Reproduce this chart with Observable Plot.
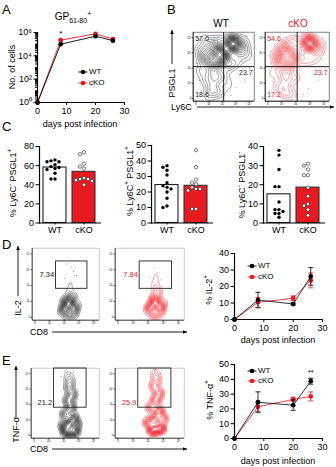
<!DOCTYPE html>
<html><head><meta charset="utf-8">
<script src="https://cdn.jsdelivr.net/npm/d3@7"></script>
<script src="https://cdn.jsdelivr.net/npm/@observablehq/plot@0.6"></script>
<style>
body{margin:0;background:#fff;}
#fig{position:relative;width:336px;height:467px;overflow:hidden;font-family:"Liberation Sans",Arial,sans-serif;color:#000;background:#fff;}
.t{position:absolute;white-space:nowrap;line-height:1;}
.t sup{font-size:0.7em;line-height:0;}
.lo{font-size:7px;position:relative;top:2.5px;}
.hi{font-size:7px;position:relative;top:-4px;}
</style></head><body><div id="fig"></div><script>
// ---------- data ----------
// A: GP61-80+ cell numbers over time
const days = [0, 8, 20, 26];
const gpCellsWT = [1, 1.0e5, 4.8e5, 2.0e5];
const gpCellsKO = [1, 2.2e5, 7.7e5, 2.7e5];
const logTicks = [1, 1e2, 1e4, 1e6];
const logTickLabels = ["10⁰", "10²", "10⁴", "10⁶"];

// C: per-mouse percentages and group means
const groups = ["WT", "cKO"];
const c1WT = [66, 65, 64, 64, 61, 59, 58, 57, 56, 52, 46, 46];
const c1KO = [74, 72, 62, 59, 57, 47, 46, 46, 45, 44, 40];
const c1Means = [58, 53.5];
const c2WT = [37, 36, 34, 31, 26, 24, 23, 22, 20, 16, 11, 10];
const c2KO = [47, 36, 28, 26, 25, 23, 22, 22, 21, 9, 9];
const c2Means = [24.5, 24];
const c3WT = [38, 35.5, 28, 19, 19, 11, 7, 7, 6, 5, 5, 3];
const c3KO = [31, 30, 28, 25, 25, 18.5, 14, 10, 9, 7, 4];
const c3Means = [15, 18.5];

// D/E: cytokine+ percentages (mean, SEM)
const il2WT = [0, 11.8, 9.4, 26.1], il2WTsem = [0, 4.7, 0.6, 5.3];
const il2KO = [0, 10.4, 12.9, 23.7], il2KOsem = [0, 3.0, 1.4, 4.5];
const tnfWT = [0, 24.5, 22.5, 38.7], tnfWTsem = [0, 7.0, 3.5, 2.0];
const tnfKO = [0, 21.4, 26.4, 28.4], tnfKOsem = [0, 3.0, 1.5, 3.0];

// flow plots: event clusters [x, y, weight] on a 0-100 display scale
const flowTicks = [4, 26, 48, 70, 92];
const flowTickLabels = ["0", "10²", "10³", "10⁴", "10⁵"];
const bWtEvents = [[66,84,10],[70,81,6],[62,86,5],[58,80,4],[47,68,8],[50,63,6],[43,72,6],
  [31,64,6],[37,72,6],[25,58,4],[35,54,5],[21,70,3.5],[29,80,3.5],[16,62,3],[41,58,6],[12,75,2],[20,88,2],[40,86,3],
  [76,72,3],[84,78,2.5],[80,88,2],[88,66,1.5],[60,52,3],[72,58,2],[33,42,4],[37,31,3.5],[31,19,3],[42,13,2.5],[22,31,2.5],[49,37,2.5],[27,9,2],[14,44,2],[56,24,1.5]];
const bKoEvents = [[70,84,12],[66,86,6],[74,81,5],[30,62,8],[36,70,8],[42,58,6],[27,72,5],[46,66,5],
  [23,55,4],[34,50,5],[31,80,3.5],[56,76,3.5],[82,73,2.5],[86,82,2],[18,66,3],[44,86,3],[62,60,2.5],[76,62,2],
  [31,38,3.5],[33,26,2.5],[29,13,2.5],[40,10,2],[21,21,2],[46,34,2],[14,40,1.5]];
const bWtSparse = [[6,88],[10,30],[88,94],[92,48],[86,28],[70,20],[62,8],[14,12],[80,58],[50,92],[94,70],[6,55]];
const bKoSparse = [[8,90],[12,28],[90,92],[94,46],[84,30],[68,18],[60,10],[88,60],[48,94],[92,70],[54,46]];
const bQuadrant = {x: 50, y: 50};
const bWtLabels = ["57.0", "23.7", "18.6"];
const bKoLabels = ["54.6", "23.7", "17.2"];

const dWtEvents = [[55,22,10],[49,16,8],[62,16,8],[55,28,6],[49,26,4],[60,32,3],[56,40,1.2],[57,50,0.8],[52,8,4],[61,8,4],[57,60,0.5],[45,12,2],[66,22,2]];
const dKoEvents = [[58,24,10],[52,18,8],[65,18,8],[58,30,6],[61,40,3],[58,50,1.2],[59,60,0.8],[55,9,4],[64,10,4],[58,70,0.5],[48,14,2],[69,24,2]];
const dWtSparse = [[58,74],[62,68],[52,78],[66,62],[48,58]];
const dKoSparse = [[57,72],[62,66],[50,60],[66,56]];
const dGate = {x1: 35, x2: 82, y1: 44, y2: 82};
const dLabels = ["7.34", "7.84"];

const eWtEvents = [[52,10,8],[63,10,8],[56,20,8],[62,28,6],[51,34,5],[58,44,5],[55,54,4],[60,62,4],[56,72,3],[57,81,2],[55,89,1.2],[48,18,4],[66,20,4]];
const eKoEvents = [[55,12,8],[65,14,8],[58,26,7],[63,38,6],[53,44,4],[59,54,4],[63,64,4],[57,74,3],[60,84,2],[58,92,1.2],[49,22,5],[69,28,4]];
const eWtSparse = [[50,96],[62,94],[44,88]];
const eKoSparse = [[58,98],[66,92]];
const eGate = {x1: 33, x2: 81, y1: 44, y2: 100};
const eLabels = ["21.2", "25.9"];

// ---------- helpers ----------
const RED = "#e8191f";
const FONT = '"Liberation Sans", Arial, sans-serif';
const fig = document.getElementById("fig");
const baseStyle = {background: "transparent", overflow: "visible", fontFamily: FONT, fontSize: "9px", color: "#000"};

function place(node, left, top) {
  node.style.position = "absolute";
  node.style.left = left + "px";
  node.style.top = top + "px";
  fig.appendChild(node);
  return node;
}
function label(html, x, y, {size = 9, color = "#000", rotate = false, anchor = "middle"} = {}) {
  const d = document.createElement("div");
  d.className = "t";
  d.innerHTML = html;
  d.style.fontSize = size + "px";
  d.style.color = color;
  d.style.left = x + "px";
  d.style.top = y + "px";
  const tx = anchor === "middle" ? "-50%" : anchor === "end" ? "-100%" : "0";
  d.style.transform = `translate(${tx},-50%)` + (rotate ? " rotate(-90deg)" : "");
  fig.appendChild(d);
}
// horizontal cap for error bars
const capSymbol = {draw(ctx, size) { const r = Math.sqrt(size / Math.PI); ctx.moveTo(-r, 0); ctx.lineTo(r, 0); }};

// ---------- A ----------
const rowsA = (vals) => days.map((d, i) => ({day: d, n: vals[i]}));
const aWT = rowsA(gpCellsWT), aKO = rowsA(gpCellsKO);
const minorLog = d3.scaleLog().domain([1, 1e6]).ticks();
place(Plot.plot({
  width: 135, height: 130, marginLeft: 37, marginRight: 11, marginTop: 32, marginBottom: 28,
  style: baseStyle,
  x: {domain: [0, 30], label: null},
  y: {type: "log", domain: [1, 1e6], label: null},
  marks: [
    Plot.axisY(minorLog, {tickSize: 2, tickFormat: () => "", label: null}),
    Plot.axisY(logTicks, {tickSize: 3.5, tickPadding: 2, tickFormat: d => logTickLabels[logTicks.indexOf(d)], label: null}),
    Plot.axisX([0, 10, 20, 30], {tickSize: 3, tickPadding: 2, label: null}),
    Plot.ruleX([0], {strokeWidth: 1.2}),
    Plot.ruleY([1], {strokeWidth: 1.2}),
    Plot.line(aKO, {x: "day", y: "n", stroke: RED, strokeWidth: 0.9}),
    Plot.dot(aKO, {x: "day", y: "n", r: 2.4, fill: RED}),
    Plot.line(aWT, {x: "day", y: "n", stroke: "#000", strokeWidth: 0.9}),
    Plot.dot(aWT, {x: "day", y: "n", r: 2.4, fill: "#000"}),
    Plot.text([aKO[1]], {x: "day", y: "n", text: () => "*", dy: -7, fontSize: 8})
  ]
}), 0, 0);

// ---------- flow plots ----------
// Drawn at 3x and scaled down so the density grid is fine enough for small contours.
const S = 3;
function flowPlot({events, sparse, color, frameStroke, boxW, boxH, quadrant, gate, gateLabel, gateLabelAt, quadLabels, labelColor, bandwidth, thresholds}) {
  const marks = [
    Plot.frame({stroke: frameStroke, strokeWidth: 0.6 * S}),
    Plot.density(events, {x: d => d[0], y: d => d[1], weight: d => d[2], bandwidth: bandwidth * S, thresholds,
      stroke: color, strokeWidth: 0.42 * S, clip: true}),
    Plot.dot(sparse, {x: d => d[0], y: d => d[1], r: 0.45 * S, fill: color, stroke: null}),
    Plot.ruleX([0], {stroke: "#000", strokeWidth: 0.7 * S}),
    Plot.ruleY([0], {stroke: "#000", strokeWidth: 0.7 * S}),
    Plot.axisX(flowTicks, {tickSize: 1.5 * S, tickPadding: 0.5 * S, fontSize: 2.6 * S, strokeWidth: S * 0.6, tickFormat: d => flowTickLabels[flowTicks.indexOf(d)], label: null}),
    Plot.axisY(flowTicks, {tickSize: 1.5 * S, tickPadding: 0.5 * S, fontSize: 2.6 * S, strokeWidth: S * 0.6, tickFormat: d => flowTickLabels[flowTicks.indexOf(d)], label: null})
  ];
  if (quadrant) {
    marks.push(Plot.ruleX([quadrant.x], {stroke: "#000", strokeWidth: 0.9 * S}));
    marks.push(Plot.ruleY([quadrant.y], {stroke: "#000", strokeWidth: 0.9 * S}));
    marks.push(Plot.text([quadLabels[0]], {frameAnchor: "top-left", dx: 2 * S, dy: 4 * S, text: d => d, fill: labelColor, fontSize: 7 * S}));
    marks.push(Plot.text([quadLabels[1]], {frameAnchor: "right", dx: -1.5 * S, dy: 6 * S, text: d => d, fill: labelColor, fontSize: 7 * S}));
    marks.push(Plot.text([quadLabels[2]], {frameAnchor: "bottom-left", dx: 2 * S, dy: -4 * S, text: d => d, fill: labelColor, fontSize: 7 * S}));
  }
  if (gate) {
    marks.push(Plot.rect([gate], {x1: "x1", x2: "x2", y1: "y1", y2: "y2", fill: "none", stroke: "#222", strokeWidth: 0.9 * S}));
    marks.push(Plot.text([gate], {x: "x1", y: d => d.y1 + (d.y2 - d.y1) * gateLabelAt, text: () => gateLabel,
      textAnchor: "end", dx: -1.5 * S, fill: labelColor, fontSize: 7.5 * S}));
  }
  const svg = Plot.plot({
    width: (10 + boxW + 2) * S, height: (4 + boxH + 6) * S,
    marginLeft: 10 * S, marginRight: 2 * S, marginTop: 4 * S, marginBottom: 6 * S,
    style: {...baseStyle, fontSize: 9 * S + "px"},
    x: {domain: [0, 100], label: null, axis: null},
    y: {domain: [0, 100], label: null, axis: null},
    marks
  });
  svg.style.transformOrigin = "0 0";
  svg.style.transform = `scale(${1 / S})`;
  return svg;
}
function flowBox(opts, left, top, boxW, boxH) {
  return place(flowPlot({...opts, boxW, boxH}), left - 10, top - 4);
}
// B: PSGL1 vs Ly6C
flowBox({events: bWtEvents, sparse: bWtSparse, color: "#111", frameStroke: "#333", quadrant: bQuadrant, quadLabels: bWtLabels, labelColor: "#222", bandwidth: 3.4, thresholds: 22}, 193, 32, 61, 69);
flowBox({events: bKoEvents, sparse: bKoSparse, color: RED, frameStroke: "#333", quadrant: bQuadrant, quadLabels: bKoLabels, labelColor: RED, bandwidth: 3.4, thresholds: 22}, 265, 32, 64, 69);
// D: IL-2 vs CD8
flowBox({events: dWtEvents, sparse: dWtSparse, color: "#111", frameStroke: "#aaa", gate: dGate, gateLabel: dLabels[0], gateLabelAt: 0.5, labelColor: "#222", bandwidth: 2.4, thresholds: 20}, 32, 248, 67, 72);
flowBox({events: dKoEvents, sparse: dKoSparse, color: RED, frameStroke: "#aaa", gate: dGate, gateLabel: dLabels[1], gateLabelAt: 0.5, labelColor: RED, bandwidth: 2.4, thresholds: 20}, 115, 248, 69, 72);
// E: TNF-α vs CD8
flowBox({events: eWtEvents, sparse: eWtSparse, color: "#111", frameStroke: "#aaa", gate: eGate, gateLabel: eLabels[0], gateLabelAt: 0.12, labelColor: "#222", bandwidth: 2.4, thresholds: 20}, 31, 368, 68, 70);
flowBox({events: eKoEvents, sparse: eKoSparse, color: RED, frameStroke: "#aaa", gate: eGate, gateLabel: eLabels[1], gateLabelAt: 0.12, labelColor: RED, bandwidth: 2.4, thresholds: 20}, 115, 368, 69, 70);

// ---------- C ----------
function barPanel(wt, ko, means, yMax, yTicks, top) {
  const H = 240 - top, mt = 11, mb = 17.5;
  const pxPerUnit = (H - mt - mb) / yMax;
  const pts = [];
  [[wt, "WT"], [ko, "cKO"]].forEach(([vals, g]) => {
    const placed = [];
    [...vals].sort((a, b) => b - a).forEach(v => {
      const o = [0, -4, 4, -8, 8, -2, 2, -6, 6].find(o =>
        placed.every(p => Math.abs(p.o - o) >= 3.6 || Math.abs(p.v - v) * pxPerUnit >= 3.6)) ?? 0;
      placed.push({v, o});
      pts.push({g, v, o});
    });
  });
  const offsets = [...new Set(pts.map(p => p.o))];
  const bars = groups.map((g, i) => ({g, m: means[i]}));
  return Plot.plot({
    width: 112, height: H, marginLeft: 39, marginRight: 12, marginTop: mt, marginBottom: mb,
    style: baseStyle,
    x: {type: "band", domain: groups, paddingInner: 0.2, paddingOuter: 0.15, label: null, tickSize: 2, tickPadding: 2},
    y: {domain: [0, yMax], ticks: yTicks, tickSize: 3.5, tickPadding: 2, label: null},
    marks: [
      Plot.barY(bars.filter(d => d.g === "WT"), {x: "g", y: "m", fill: "white", stroke: "#222", strokeWidth: 1.1}),
      Plot.barY(bars.filter(d => d.g === "cKO"), {x: "g", y: "m", fill: RED, stroke: "#333", strokeWidth: 1.1}),
      ...offsets.map(o => Plot.dot(pts.filter(p => p.o === o && p.g === "WT"), {x: "g", y: "v", dx: o, r: 1.7, fill: "#000"})),
      ...offsets.map(o => Plot.dot(pts.filter(p => p.o === o && p.g === "cKO"), {x: "g", y: "v", dx: o, r: 1.7, fill: "white", stroke: "#222", strokeWidth: 0.6})),
      Plot.frame({anchor: "left", strokeWidth: 1.2}),
      Plot.frame({anchor: "bottom", strokeWidth: 1.2})
    ]
  });
}
place(barPanel(c1WT, c1KO, c1Means, 80, [0, 20, 40, 60, 80], 135), 0, 135);
place(barPanel(c2WT, c2KO, c2Means, 50, [0, 10, 20, 30, 40, 50], 134), 112, 134);
place(barPanel(c3WT, c3KO, c3Means, 40, [0, 10, 20, 30, 40], 135), 224, 135);

// ---------- D / E line charts ----------
function linePanel({wt, wtSem, ko, koSem, yMax, yTicks, width, height, mt, mb, sig}) {
  const rows = (v, s) => days.map((d, i) => ({day: d, v: v[i], s: s[i]}));
  const W = rows(wt, wtSem), K = rows(ko, koSem);
  const series = (R, color) => [
    Plot.ruleX(R.filter(d => d.s > 0), {x: "day", y1: d => d.v - d.s, y2: d => d.v + d.s, stroke: color, strokeWidth: 0.8}),
    Plot.dot(R.filter(d => d.s > 0), {x: "day", y: d => d.v + d.s, symbol: capSymbol, r: 2.6, stroke: color, strokeWidth: 0.8}),
    Plot.dot(R.filter(d => d.s > 0), {x: "day", y: d => d.v - d.s, symbol: capSymbol, r: 2.6, stroke: color, strokeWidth: 0.8}),
    Plot.line(R, {x: "day", y: "v", stroke: color, strokeWidth: 0.8}),
    Plot.dot(R, {x: "day", y: "v", r: 2.4, fill: color})
  ];
  const marks = [
    Plot.axisX([0, 10, 20, 30], {tickSize: 3, tickPadding: 2, label: null}),
    Plot.axisY(yTicks, {tickSize: 3.5, tickPadding: 2, label: null}),
    Plot.ruleX([0], {strokeWidth: 1.2}),
    Plot.ruleY([0], {strokeWidth: 1.2}),
    ...series(K, RED),
    ...series(W, "#000")
  ];
  if (sig) marks.push(Plot.text([W[W.length - 1]], {x: "day", y: d => d.v + d.s, text: () => sig, dy: -6, fontSize: 7}));
  return Plot.plot({
    width, height, marginLeft: 39, marginRight: 14, marginTop: mt, marginBottom: mb,
    style: baseStyle,
    x: {domain: [0, 30], label: null},
    y: {domain: [0, yMax], label: null},
    marks
  });
}
place(linePanel({wt: il2WT, wtSem: il2WTsem, ko: il2KO, koSem: il2KOsem, yMax: 40, yTicks: [0, 10, 20, 30, 40],
  width: 141, height: 110, mt: 13, mb: 31}), 195, 240);
place(linePanel({wt: tnfWT, wtSem: tnfWTsem, ko: tnfKO, koSem: tnfKOsem, yMax: 50, yTicks: [0, 10, 20, 30, 40, 50],
  width: 141, height: 115, mt: 12, mb: 29, sig: "**"}), 195, 352);

// ---------- text ----------
label("A", 2, 9, {size: 13, anchor: "start"});
label("B", 167, 9, {size: 13, anchor: "start"});
label("C", 2, 126, {size: 13, anchor: "start"});
label("D", 2, 244, {size: 13, anchor: "start"});
label("E", 2, 360, {size: 13, anchor: "start"});

label('GP<span class="lo">61-80</span><span class="hi">+</span>', 73, 17, {size: 10});
label("No. of cells", 12, 67, {size: 9, rotate: true});
label("days post infection", 80, 124, {size: 9});
label("WT", 89, 72, {size: 8, anchor: "start"});
label("cKO", 89, 83, {size: 8, anchor: "start"});

label("WT", 221, 24, {size: 10});
label("cKO", 298, 24, {size: 10, color: RED});
label("PSGL1", 172, 83, {size: 9, rotate: true});
label("Ly6C", 171, 107, {size: 9, anchor: "start"});

label("% Ly6C<sup>-</sup> PSGL1<sup>+</sup>", 13, 183, {size: 9, rotate: true});
label("% Ly6C<sup>+</sup> PSGL1<sup>+</sup>", 130, 181, {size: 9, rotate: true});
label("% Ly6C<sup>-</sup> PSGL1<sup>-</sup>", 242, 185, {size: 9, rotate: true});

label("IL-2", 18, 308, {size: 9, rotate: true});
label("CD8", 30, 332, {size: 9, anchor: "start"});
label("% IL-2<sup>+</sup>", 209, 290, {size: 9, rotate: true});
label("days post infection", 278, 340, {size: 9});
label("WT", 258, 266, {size: 8, anchor: "start"});
label("cKO", 258, 277, {size: 8, anchor: "start"});

label("TNF-α", 16, 430, {size: 9, rotate: true});
label("CD8", 30, 449, {size: 9, anchor: "start"});
label("% TNF-α<sup>+</sup>", 210, 400, {size: 9, rotate: true});
label("days post infection", 278, 461, {size: 9});
label("WT", 258, 371, {size: 8, anchor: "start"});
label("cKO", 258, 381, {size: 8, anchor: "start"});

// ---------- arrows and legend keys ----------
const overlay = d3.select(fig).append("svg")
  .attr("width", 336).attr("height", 467)
  .style("position", "absolute").style("left", 0).style("top", 0).style("pointer-events", "none");
function arrow(x1, y1, x2, y2) {
  overlay.append("line").attr("x1", x1).attr("y1", y1).attr("x2", x2).attr("y2", y2).attr("stroke", "#000").attr("stroke-width", 0.9);
  const a = Math.atan2(y2 - y1, x2 - x1), L = 4, Wd = 1.8;
  const p = [[x2, y2], [x2 - L * Math.cos(a) + Wd * Math.sin(a), y2 - L * Math.sin(a) - Wd * Math.cos(a)],
             [x2 - L * Math.cos(a) - Wd * Math.sin(a), y2 - L * Math.sin(a) + Wd * Math.cos(a)]];
  overlay.append("path").attr("d", "M" + p.map(q => q.join(",")).join("L") + "Z").attr("fill", "#000");
}
arrow(172, 64, 172, 30);
arrow(197, 107, 334, 107);
arrow(18, 296, 18, 246);
arrow(52, 332, 187, 332);
arrow(16, 418, 16, 366);
arrow(52, 449, 187, 449);
function key(x, y, color) {
  overlay.append("line").attr("x1", x - 4.5).attr("x2", x + 4.5).attr("y1", y).attr("y2", y).attr("stroke", color).attr("stroke-width", 0.9);
  overlay.append("circle").attr("cx", x).attr("cy", y).attr("r", 2.3).attr("fill", color);
}
key(83, 72, "#000"); key(83, 83, RED);
key(252, 266, "#000"); key(252, 277, RED);
key(252, 371, "#000"); key(252, 381, RED);
</script></body></html>
